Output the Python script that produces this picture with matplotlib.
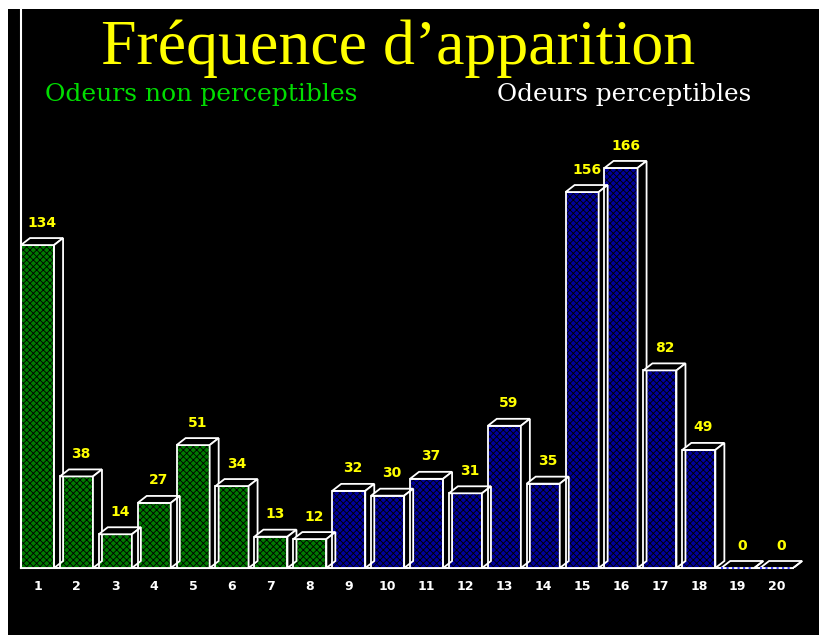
import matplotlib.pyplot as plt
from matplotlib.patches import Polygon, Rectangle

# fréquence d'apparition par odeur (1-8 non perceptibles, 9-20 perceptibles)
odeurs = list(range(1, 21))
frequences = [134, 38, 14, 27, 51, 34, 13, 12,
              32, 30, 37, 31, 59, 35, 156, 166, 82, 49, 0, 0]
n_non_percept = 8

titre = "Fréquence d’apparition"
label_non = "Odeurs non perceptibles"
label_oui = "Odeurs perceptibles"

plt.rcParams['hatch.linewidth'] = 0.6

W, H = 820, 635
fig = plt.figure(figsize=(W / 100, H / 100), dpi=100, facecolor='white')

# fond noir
fig.patches.append(Rectangle((8 / W, 0), 1 - 8 / W, 1 - 9 / H,
                             transform=fig.transFigure, facecolor='black',
                             edgecolor='none', zorder=-10))

# axe : x0 -> pixel 21, baseline -> pixel 568
px = 38.9          # pixels par catégorie
py = 2.41          # pixels par unité
largeur = 0.85
x_gauche = 1 - largeur / 2
x_droite = x_gauche + (W - 21) / px
y_haut = (568 - 9) / py
ax = fig.add_axes([21 / W, 1 - 568 / H, 1 - 21 / W, (568 - 9) / H])
ax.set_facecolor('none')
ax.set_xlim(x_gauche, x_droite)
ax.set_ylim(0, y_haut)
for s in ['top', 'right', 'bottom']:
    ax.spines[s].set_visible(False)
ax.spines['left'].set_color('white')
ax.spines['left'].set_linewidth(1.5)
ax.set_yticks([])
ax.set_xticks(odeurs)
ax.set_xticklabels([str(o) for o in odeurs], color='white',
                   fontsize=9, fontweight='bold', family='DejaVu Sans')
ax.tick_params(axis='x', length=0, pad=9)

dx = 9 / px
dy = 7 / py

ax.plot([x_gauche, odeurs[-1] + largeur / 2], [0, 0], color='white', lw=1.5,
        zorder=1, clip_on=False)

for x, h in zip(odeurs, frequences):
    face = '#007a00' if x <= n_non_percept else '#00009a'
    x0, x1 = x - largeur / 2, x + largeur / 2
    # face avant hachurée
    ax.add_patch(Rectangle((x0, 0), largeur, h, facecolor=face,
                           edgecolor='black', hatch='xxxxx', lw=0, zorder=2))
    if h > 0:
        ax.add_patch(Rectangle((x0, 0), largeur, h, fill=False,
                               edgecolor='white', lw=1.3, zorder=3))
    # dessus
    ax.add_patch(Polygon([(x0, h), (x1, h), (x1 + dx, h + dy), (x0 + dx, h + dy)],
                         closed=True, facecolor='black', edgecolor='white',
                         lw=1.3, zorder=3))
    # côté
    ax.add_patch(Polygon([(x1, 0), (x1, h), (x1 + dx, h + dy), (x1 + dx, dy)],
                         closed=True, facecolor='black', edgecolor='white',
                         lw=1.3, zorder=3))
    if h == 0:
        ax.plot([x0, x1], [0, 0], color='#4040ff', lw=1.5, ls=':', zorder=4,
                clip_on=False)
    ax.text(x + dx / 2, h + dy + 3.5, str(h), color='#ffff00', ha='center',
            va='bottom', fontsize=10, fontweight='bold', family='DejaVu Sans')

fig.text(398 / W, 1 - 49 / H, titre, color='#ffff00', ha='center',
         va='center', fontsize=46, family='Liberation Serif')
fig.text(45 / W, 1 - 95 / H, label_non, color='#00dd00', ha='left',
         va='center', fontsize=18, family='DejaVu Serif')
fig.text(497 / W, 1 - 95 / H, label_oui, color='white', ha='left',
         va='center', fontsize=17.7, family='DejaVu Serif')

fig.savefig('out.png', dpi=100, facecolor='white')
